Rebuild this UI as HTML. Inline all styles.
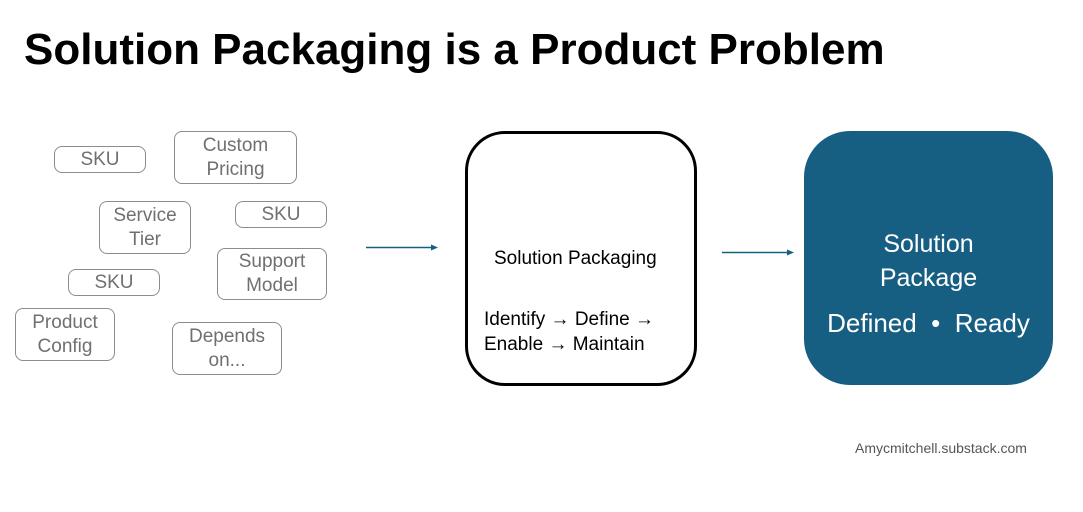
<!DOCTYPE html>
<html><head><meta charset="utf-8"><style>
body{margin:0;width:1083px;height:512px;background:#fff;position:relative;overflow:hidden;font-family:"Liberation Sans",sans-serif}
.t{position:absolute;left:24px;top:25px;font-size:44px;font-weight:bold;color:#000;white-space:nowrap}
.b{position:absolute;border:1.5px solid #8c8c8c;border-radius:8px;box-sizing:border-box;color:#707070;font-size:19px;line-height:24px;display:flex;align-items:center;justify-content:center;text-align:center}
.mid{position:absolute;left:465px;top:131px;width:232px;height:255px;border:3px solid #000;border-radius:40px;box-sizing:border-box}
.right{position:absolute;left:804px;top:131px;width:249px;height:254px;background:#175f82;border-radius:46px;color:#fff;text-align:center}
.ar{font-weight:bold}
</style></head><body>
<div class="t">Solution Packaging is a Product Problem</div>
<div class="b" style="left:54px;top:146px;width:92px;height:27px">SKU</div>
<div class="b" style="left:174px;top:131px;width:123px;height:53px">Custom<br>Pricing</div>
<div class="b" style="left:99px;top:201px;width:92px;height:53px">Service<br>Tier</div>
<div class="b" style="left:235px;top:201px;width:92px;height:27px">SKU</div>
<div class="b" style="left:217px;top:248px;width:110px;height:52px">Support<br>Model</div>
<div class="b" style="left:68px;top:269px;width:92px;height:27px">SKU</div>
<div class="b" style="left:15px;top:308px;width:100px;height:53px">Product<br>Config</div>
<div class="b" style="left:172px;top:322px;width:110px;height:53px">Depends<br>on...</div>
<svg style="position:absolute;left:0;top:0" width="1083" height="512">
<line x1="366" y1="247.5" x2="433" y2="247.5" stroke="#175f82" stroke-width="1.6"/>
<polygon points="438,247.5 431,244.5 431,250.5" fill="#175f82"/>
<line x1="722" y1="252.5" x2="789" y2="252.5" stroke="#175f82" stroke-width="1.6"/>
<polygon points="794,252.5 787,249.5 787,255.5" fill="#175f82"/>
</svg>
<div class="mid"></div>
<div style="position:absolute;left:494px;top:248px;font-size:19px;color:#000">Solution Packaging</div>
<div style="position:absolute;left:484px;top:307px;font-size:19px;line-height:25px;color:#000">Identify <span class="ar">→</span> Define <span class="ar">→</span><br>Enable <span class="ar">→</span> Maintain</div>
<div class="right">
<div style="position:absolute;left:0;right:0;top:96px;font-size:25px;line-height:34px">Solution<br>Package</div>
<div style="position:absolute;left:0;right:0;top:177px;font-size:26px">Defined &nbsp;•&nbsp; Ready</div>
</div>
<div style="position:absolute;left:855px;top:440px;font-size:14px;color:#555">Amycmitchell.substack.com</div>
</body></html>
